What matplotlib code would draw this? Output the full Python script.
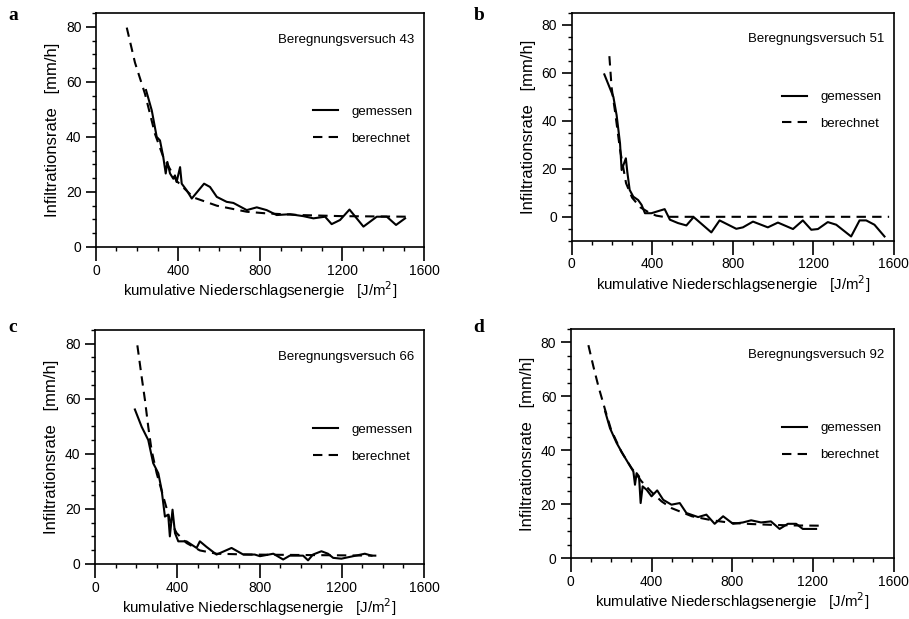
import numpy as np
import matplotlib
matplotlib.use("Agg")
import matplotlib.pyplot as plt
from matplotlib.ticker import MultipleLocator

plt.rcParams['font.family'] = ['Liberation Sans', 'DejaVu Sans']

# Beregnungsversuch 43
a_meas_x = [244, 272, 296, 312, 328, 340, 348, 361, 377, 385, 393, 410, 418, 442, 467, 527, 556,
            589, 637, 670, 735, 784, 832, 881, 946, 1011, 1060, 1117, 1149, 1190, 1236, 1304,
            1369, 1418, 1463, 1507]
a_meas_y = [57, 49.6, 40, 38.7, 32.7, 26.7, 30.9, 26.7, 24.8, 26, 23.6, 29, 23, 20.6, 17.6, 23,
            21.8, 18.2, 16.4, 16, 13.4, 14.4, 13.4, 11.6, 11.9, 11.2, 10.4, 11, 8.3, 9.8, 13.6,
            7.4, 11, 11, 8, 10.4]
a_calc_x = [150, 190, 239, 288, 328, 393, 475, 589, 735, 832, 995, 1200, 1524]
a_calc_y = [79.7, 67, 55.6, 41, 32.7, 24, 18, 15, 12.8, 12.2, 11.6, 11.2, 11]

# Beregnungsversuch 51
b_meas_x = [162, 207, 223, 240, 248, 260, 269, 276, 288, 306, 330, 347, 364, 396, 462, 488, 528,
            570, 606, 694, 735, 818, 851, 901, 975, 1025, 1100, 1149, 1191, 1224, 1273, 1315,
            1389, 1431, 1464, 1505, 1555]
b_meas_y = [59.4, 50, 42.4, 30.6, 19.5, 22.3, 24.4, 18.8, 11.2, 8.4, 7, 5, 1.5, 1.5, 3.2, -1.2,
            -2.6, -3.6, -0.1, -6.5, -1.5, -5, -4.4, -2, -4.4, -2.4, -5.1, -1.5, -5.4, -5.1, -2.2,
            -3.3, -8.2, -1.5, -1.5, -3.3, -8.2]
b_calc_x = [187, 198, 215, 240, 270, 300, 340, 390, 420, 455, 1578]
b_calc_y = [67, 54, 44, 28, 14, 8, 4, 1.5, 0.5, 0, 0]

# Beregnungsversuch 66
c_meas_x = [194, 227, 259, 283, 308, 324, 340, 356, 364, 377, 389, 405, 445, 494, 510, 542, 591,
            664, 721, 777, 802, 867, 915, 947, 1012, 1036, 1060, 1101, 1133, 1158, 1198, 1255,
            1312, 1345]
c_meas_y = [56.1, 49.8, 45, 36.6, 32.9, 26.9, 17.2, 17.9, 10, 19.7, 11.2, 8.2, 8.2, 5.8, 8.2, 6.2,
            3.4, 5.8, 3.4, 3.4, 2.8, 3.7, 1.6, 3, 3, 1.3, 3.4, 4.6, 3.7, 2.2, 1.9, 2.8, 3.7, 3]
c_calc_x = [206, 227, 243, 259, 275, 300, 332, 364, 397, 445, 510, 591, 753, 1368]
c_calc_y = [79.4, 67.9, 59.5, 49.8, 41.4, 32.9, 24.5, 16, 11.2, 7.6, 4.9, 3.7, 3.4, 3]

# Beregnungsversuch 92
d_meas_x = [170, 194, 227, 260, 285, 310, 318, 326, 338, 346, 356, 376, 400, 428, 458, 499, 540,
            573, 631, 672, 713, 755, 804, 853, 894, 943, 992, 1035, 1076, 1117, 1150, 1216]
d_meas_y = [54.4, 48.2, 42.7, 38.3, 35.2, 32.1, 27.2, 31.5, 30.3, 20.4, 26.6, 25.3, 22.9, 25.1,
            21.6, 19.8, 20.4, 16.7, 15.2, 16.1, 12.7, 15.5, 12.7, 13.2, 14, 13.2, 13.6, 10.8,
            12.7, 12.7, 10.8, 10.8]
d_calc_x = [87, 112, 137, 170, 200, 250, 300, 350, 400, 450, 500, 600, 700, 800, 900, 1000, 1100,
            1240]
d_calc_y = [79, 71, 63.6, 55, 47.5, 39.5, 33.5, 28.5, 24.5, 21, 18.5, 15.5, 14, 13, 12.6, 12.3,
            12.1, 12]

panels = [
    ("a", "Beregnungsversuch 43", a_meas_x, a_meas_y, a_calc_x, a_calc_y, 0),
    ("b", "Beregnungsversuch 51", b_meas_x, b_meas_y, b_calc_x, b_calc_y, -10),
    ("c", "Beregnungsversuch 66", c_meas_x, c_meas_y, c_calc_x, c_calc_y, 0),
    ("d", "Beregnungsversuch 92", d_meas_x, d_meas_y, d_calc_x, d_calc_y, 0),
]
# axes rectangles in figure fraction
rects = [
    [0.1056, 0.601, 0.361, 0.378],
    [0.629, 0.611, 0.354, 0.368],
    [0.1045, 0.089, 0.362, 0.378],
    [0.628, 0.0985, 0.355, 0.370],
]
letter_pos = [(0.009, 0.988), (0.521, 0.988), (0.009, 0.484), (0.521, 0.484)]
legend_top = [0.655, 0.71, 0.65, 0.645]

fig = plt.figure(figsize=(9.09, 6.19), dpi=100)

for (letter, title, mx, my, cx, cy, ymin), rect, lp, lt in zip(panels, rects, letter_pos, legend_top):
    ax = fig.add_axes(rect)
    ax.plot(mx, my, color="black", lw=1.5, label="gemessen")
    ax.plot(cx, cy, color="black", lw=1.5, ls=(0, (4.5, 3)), label="berechnet")
    ax.set_xlim(0, 1600)
    ax.set_ylim(ymin, 85)
    ax.set_xticks(np.arange(0, 1601, 400))
    ax.set_yticks(np.arange(0, 81, 20))
    ax.xaxis.set_minor_locator(MultipleLocator(100))
    ax.yaxis.set_minor_locator(MultipleLocator(5))
    ax.tick_params(which="major", direction="out", length=7, width=1.2, labelsize=10, color="black")
    ax.tick_params(which="minor", direction="out", length=3, width=1.0)
    ax.tick_params(axis="x", which="major", length=10, pad=2)
    for s in ax.spines.values():
        s.set_linewidth(1.2)
    ax.set_xlabel("kumulative Niederschlagsenergie   [J/m$^2$]", fontsize=10.8, labelpad=1)
    ax.set_ylabel("Infiltrationsrate   [mm/h]", fontsize=12, labelpad=4)
    ax.text(0.97, 0.885, title, transform=ax.transAxes, ha="right", va="center", fontsize=9.5)
    ax.legend(loc="upper right", bbox_to_anchor=(1.0, lt), frameon=False, fontsize=9.5,
              handlelength=1.9, labelspacing=1.1, handletextpad=1.0)
    fig.text(lp[0], lp[1], letter, fontsize=14, fontweight="bold", family="Liberation Serif",
             va="top", ha="left")

fig.savefig("out.png", dpi=100)
